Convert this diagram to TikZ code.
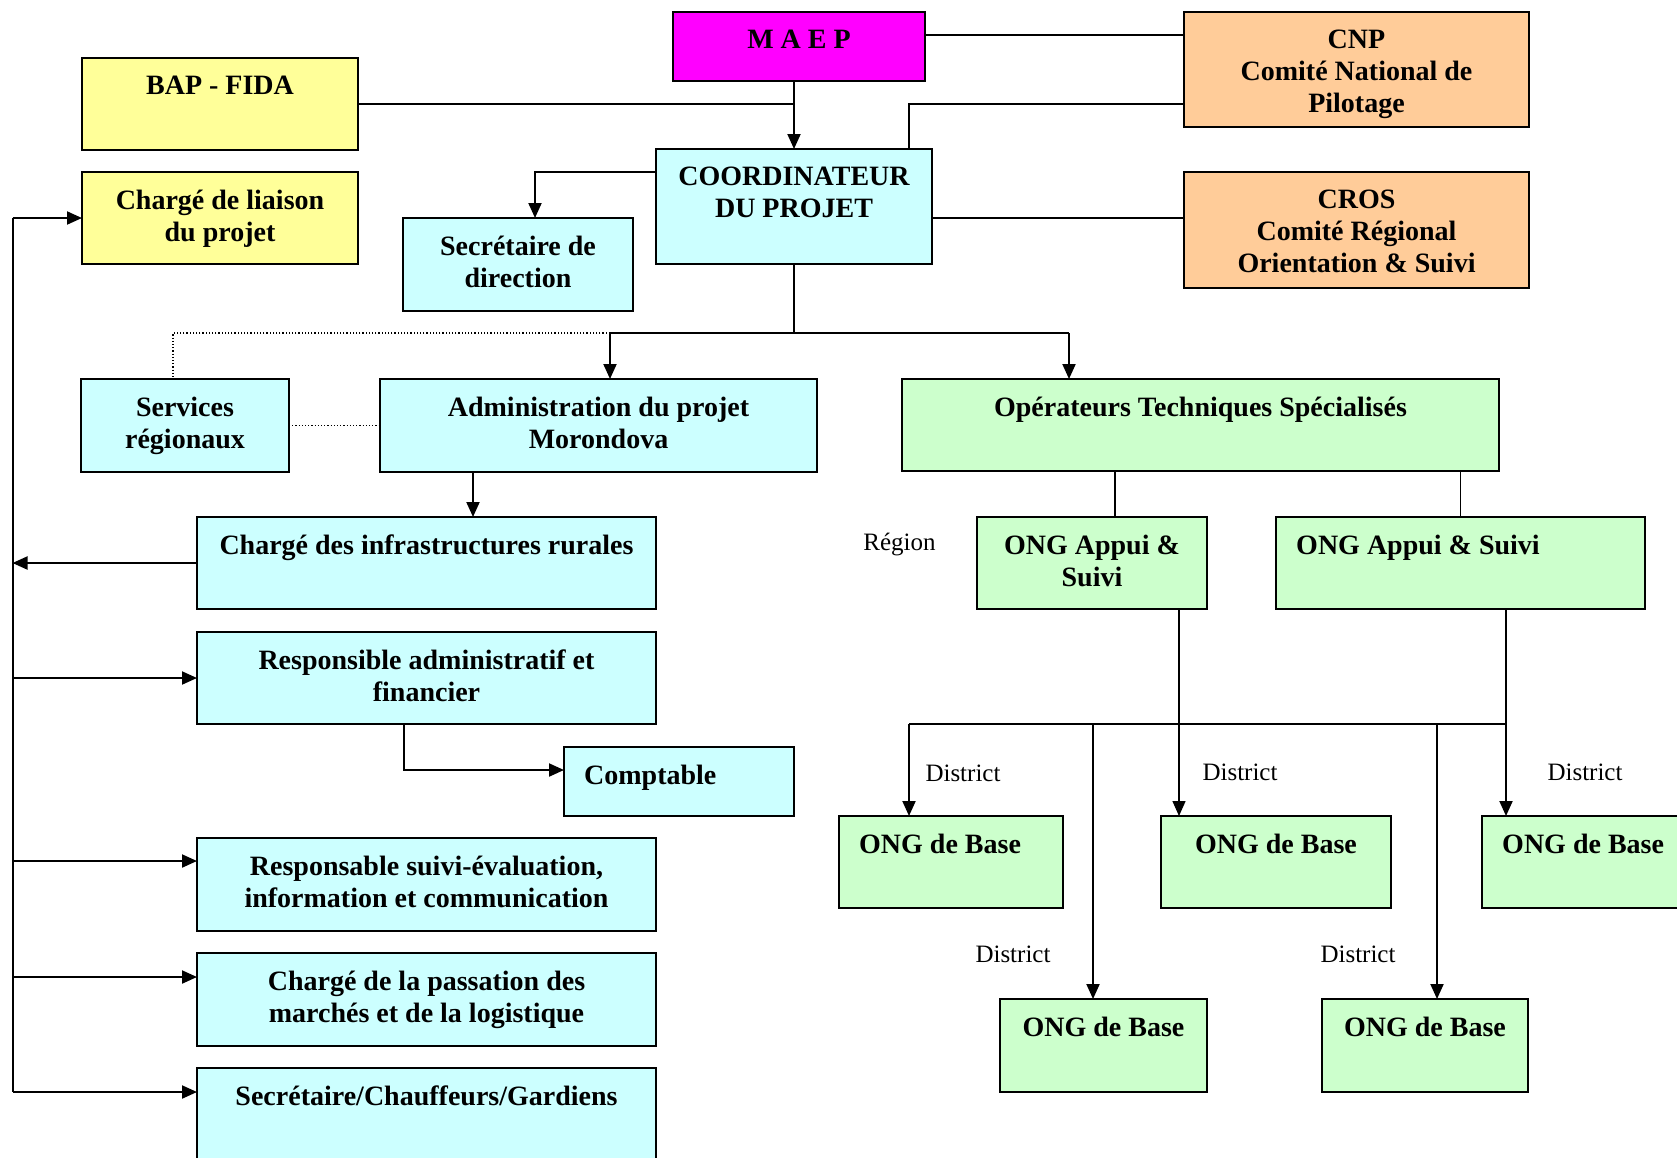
\documentclass[tikz,border=0pt]{standalone}
\usepackage{fontspec}
\setmainfont{Liberation Serif}
\usetikzlibrary{arrows.meta,positioning}

\definecolor{maepmag}{HTML}{FF00FF}
\definecolor{bapyellow}{HTML}{FFFF99}
\definecolor{projcyan}{HTML}{CCFFFF}
\definecolor{compeach}{HTML}{FFCC99}
\definecolor{onggreen}{HTML}{CCFFCC}

\begin{document}
\begin{tikzpicture}[
    x=1pt, y=-1pt,
    box/.style={rectangle, draw, line width=2pt, anchor=north west, inner sep=0pt, outer sep=0pt},
    maepbox/.style={box, fill=maepmag},
    bapbox/.style={box, fill=bapyellow},
    projbox/.style={box, fill=projcyan},
    compbox/.style={box, fill=compeach},
    ongbox/.style={box, fill=onggreen},
    txt/.style={anchor=north, yshift=-18pt, align=center, inner sep=0pt, font=\bfseries\fontsize{28}{32}\selectfont},
    ltxt/.style={txt, anchor=north west, xshift=20pt, align=left},
    note/.style={anchor=base, inner sep=0pt, font=\fontsize{25}{30}\selectfont},
    link/.style={line width=2pt},
    thinlink/.style={line width=1.6pt},
    dotlink/.style={dotted, line width=1.2pt},
    arrow/.style={-{Triangle[length=15pt,width=13pt]}, line width=2pt},
    thinarrow/.style={arrow, line width=1.4pt}
]
\useasboundingbox (0,0) rectangle (1677,1157);
\fill[white] (0,0) rectangle (1677,1157);

% Direction
\node[maepbox, minimum width=252pt, minimum height=69pt, label={[txt]north:{M A E P}}] (maep) at (673,12) {};
\node[bapbox, minimum width=276pt, minimum height=92pt, label={[txt]north:{BAP - FIDA}}] (bap) at (82,58) {};
\node[compbox, minimum width=345pt, minimum height=115pt, label={[txt]north:{CNP\\Comité National de\\Pilotage}}] (cnp) at (1184,12) {};
\node[projbox, minimum width=276pt, minimum height=115pt, label={[txt]north:{COORDINATEUR\\DU PROJET}}] (coord) at (656,149) {};
\node[bapbox, minimum width=276pt, minimum height=92pt, label={[txt]north:{Chargé de liaison\\du projet}}] (liaison) at (82,172) {};
\node[projbox, minimum width=230pt, minimum height=93pt, label={[txt]north:{Secrétaire de\\direction}}] (sec) at (403,218) {};
\node[compbox, minimum width=345pt, minimum height=116pt, label={[txt]north:{CROS\\Comité Régional\\Orientation \& Suivi}}] (cros) at (1184,172) {};

% Project administration
\node[projbox, minimum width=208pt, minimum height=93pt, label={[txt]north:{Services\\régionaux}}] (serv) at (81,379) {};
\node[projbox, minimum width=437pt, minimum height=93pt, label={[txt]north:{Administration du projet\\Morondova}}] (admin) at (380,379) {};
\node[projbox, minimum width=459pt, minimum height=92pt, label={[txt]north:{Chargé des infrastructures rurales}}] (infra) at (197,517) {};
\node[projbox, minimum width=459pt, minimum height=92pt, label={[txt]north:{Responsible administratif et\\financier}}] (raf) at (197,632) {};
\node[projbox, minimum width=230pt, minimum height=69pt, label={[ltxt]north west:{Comptable}}] (compta) at (564,747) {};
\node[projbox, minimum width=459pt, minimum height=93pt, label={[txt]north:{Responsable suivi-évaluation,\\information et communication}}] (suivi) at (197,838) {};
\node[projbox, minimum width=459pt, minimum height=93pt, label={[txt]north:{Chargé de la passation des\\marchés et de la logistique}}] (pass) at (197,953) {};
\node[projbox, minimum width=459pt, minimum height=93pt, label={[txt]north:{Secrétaire/Chauffeurs/Gardiens}}] (staff) at (197,1068) {};

% Operators and NGOs
\node[ongbox, minimum width=597pt, minimum height=92pt, label={[txt]north:{Opérateurs Techniques Spécialisés}}] (ots) at (902,379) {};
\node[ongbox, minimum width=230pt, minimum height=92pt, label={[txt]north:{ONG Appui \&\\Suivi}}] (app1) at (977,517) {};
\node[ongbox, minimum width=369pt, minimum height=92pt, label={[ltxt]north west:{ONG Appui \& Suivi}}] (app2) at (1276,517) {};
\node[ongbox, minimum width=224pt, minimum height=92pt, label={[ltxt]north west:{ONG de Base}}] (base1) at (839,816) {};
\node[ongbox, minimum width=230pt, minimum height=92pt, label={[txt]north:{ONG de Base}}] (base2) at (1161,816) {};
\node[ongbox, minimum width=224pt, minimum height=92pt, label={[ltxt]north west:{ONG de Base}}] (base3) at (1482,816) {};
\node[ongbox, minimum width=207pt, minimum height=93pt, label={[txt]north:{ONG de Base}}] (baseA) at (1000,999) {};
\node[ongbox, minimum width=206pt, minimum height=93pt, label={[txt]north:{ONG de Base}}] (baseB) at (1322,999) {};

% Levels
\node[note] (reg) at (899.5,550) {Région};
\node[note] (dist1) at (963,781) {District};
\node[note] (dist2) at (1240,780) {District};
\node[note] (dist3) at (1585,780) {District};
\node[note] (dist4) at (1013,962) {District};
\node[note] (dist5) at (1358,962) {District};

% Junctions
\coordinate (jbap) at (794,104);
\coordinate (jmaep) at (925,35);
\coordinate (jcnp) at (908.5,104);
\coordinate (jcros) at (932,218);
\coordinate (jsec) at (535,172);
\coordinate (jsplit) at (794,333);
\coordinate (jadm) at (610,333);
\coordinate (jots) at (1069,333);
\coordinate (jserv) at (173,333);
\coordinate (jinfra) at (473,472);
\coordinate (jcompta) at (404,770);
\coordinate (bus) at (12.5,218);
\coordinate (suiviin) at (197,861);
\coordinate (passin) at (197,977);
\coordinate (staffin) at (197,1092);
\coordinate (japp1) at (1115,471);
\coordinate (jb2) at (1179,609);
\coordinate (jong) at (1506,724);
\coordinate (jb1) at (909,724);
\coordinate (jbA) at (1093,724);
\coordinate (jbB) at (1437,724);

% Top connections
\draw[arrow] (maep.south -| jbap) -- (jbap |- coord.north);
\draw[link] (bap.east) -- (jbap);
\draw[link] (jmaep) -- (jmaep -| cnp.west);
\draw[link] (jcnp |- coord.north) -- (jcnp) -- (jcnp -| cnp.west);
\draw[link] (jcros) -- (jcros -| cros.west);
\draw[arrow] (jsec -| coord.west) -- (jsec) -- (jsec |- sec.north);

% Coordinator to administration and operators
\draw[link] (coord.south) -- (jsplit);
\draw[link] (jadm) -- (jots);
\draw[arrow] (jadm) -- (jadm |- admin.north);
\draw[arrow] (jots) -- (jots |- ots.north);
\draw[dotlink] (jadm) -- (jserv) -- (jserv |- serv.north);
\draw[dotlink] (serv.east) -- (admin.west);
\draw[arrow] (jinfra) -- (jinfra |- infra.north);

% Staff bus
\draw[link] (bus |- liaison.west) -- (bus |- staffin);
\draw[arrow] (bus |- liaison.west) -- (liaison.west);
\draw[arrow] (infra.west) -- (bus |- infra.west);
\draw[arrow] (bus |- raf.west) -- (raf.west);
\draw[arrow] (bus |- suiviin) -- (suiviin);
\draw[arrow] (bus |- passin) -- (passin);
\draw[arrow] (bus |- staffin) -- (staffin);
\draw[arrow] (raf.south -| jcompta) -- (jcompta) -- (jcompta -| compta.west);

% NGO tree
\draw[thinlink] (japp1) -- (japp1 |- app1.north);
\draw[thinlink] (ots.south -| app2.north) -- (app2.north);
\draw[thinarrow] (jb2) -- (jb2 |- base2.north);
\draw[link] (app2.south -| jong) -- (jong);
\draw[arrow] (jong) -- (jong |- base3.north);
\draw[link] (jong) -- (jb1);
\draw[arrow] (jb1) -- (jb1 |- base1.north);
\draw[arrow] (jbA) -- (jbA |- baseA.north);
\draw[arrow] (jbB) -- (jbB |- baseB.north);

\end{tikzpicture}
\end{document}
